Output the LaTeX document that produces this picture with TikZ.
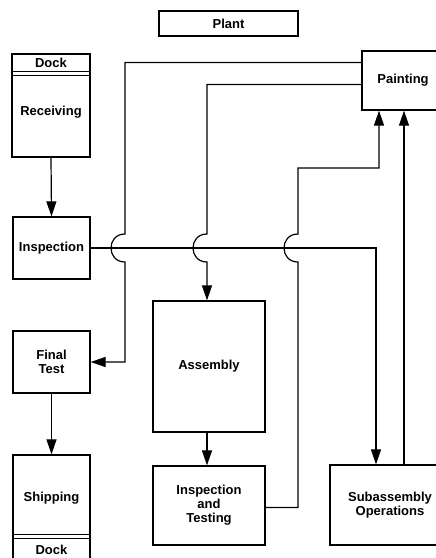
\documentclass[tikz,border=0pt]{standalone}
\usepackage{fontspec}
\setmainfont{Liberation Sans}
\usetikzlibrary{arrows.meta}
\begin{document}
\begin{tikzpicture}[x=1pt,y=-1pt,
  box/.style={draw, line width=1.3pt, inner sep=0pt},
  lbl/.style={font=\bfseries\fontsize{13}{14}\selectfont, align=center, inner sep=0pt},
  conn/.style={line width=1.2pt},
  arr/.style={conn, -{Triangle[length=15pt,width=10pt]}}]
\useasboundingbox (0,0) rectangle (436,558);
\clip (0,0) rectangle (436,558);
% boxes
\node[box, lbl, minimum width=139pt, minimum height=25pt] (plant) at (228.5,23.5) {Plant};
\node[box, minimum width=78pt, minimum height=103pt] (recv) at (51,105.5) {};
\node[lbl] (recvdock) at (51,63) {Dock};
\node[lbl] (recvtxt) at (51,112) {Receiving};
\draw[line width=1.3pt] ([yshift=-18pt]recv.north west) -- ([yshift=-18pt]recv.north east);
\draw[line width=1.3pt] ([yshift=-22pt]recv.north west) -- ([yshift=-22pt]recv.north east);
\node[box, lbl, minimum width=77pt, minimum height=62pt] (insp) at (51.5,248) {Inspection};
\node[box, lbl, minimum width=77pt, minimum height=62pt] (final) at (51.5,362) {Final\\Test};
\node[box, minimum width=77pt, minimum height=107pt] (ship) at (51.5,508.5) {};
\node[lbl] (shiptxt) at (51.5,498) {Shipping};
\node[lbl] (shipdock) at (51.5,550) {Dock};
\draw[line width=1.3pt] ([yshift=-80pt]ship.north west) -- ([yshift=-80pt]ship.north east);
\draw[line width=1.3pt] ([yshift=-84pt]ship.north west) -- ([yshift=-84pt]ship.north east);
\node[box, lbl, minimum width=112pt, minimum height=131pt] (asm) at (209,366.5) {Assembly};
\node[box, lbl, minimum width=112pt, minimum height=79pt] (it) at (209,505.5) {Inspection\\and\\Testing};
\node[box, minimum width=84pt, minimum height=59pt] (paint) at (404,80.5) {};
\node[lbl] (painttxt) at (403,80) {Painting};
\node[box, minimum width=120pt, minimum height=80pt] (sub) at (390,505) {};
\node[lbl] (subtxt) at (390,505) {Subassembly\\Operations};
% connectors
\draw[arr] (recv.south) -- (insp.north);
\draw[arr] (final.south) -- (ship.north);
\draw[arr] ([xshift=-2pt]asm.south) -- ([xshift=-2pt]it.north);
\draw[arr] (insp.east) -| ([xshift=-14pt]sub.north);
\draw[arr] ([xshift=14pt]sub.north) -- (paint.south);
\draw[arr] ([yshift=18pt]paint.west) -| (125,234)
  .. controls (106.3,234) and (106.3,262) .. (125,262) |- (final.east);
\draw[arr] ([yshift=-4pt]paint.west) -| (207,234)
  .. controls (188.3,234) and (188.3,262) .. (207,262) -- ([xshift=-2pt]asm.north);
\draw[arr] ([yshift=-2pt]it.east) -| (298,262)
  .. controls (279.3,262) and (279.3,234) .. (298,234) |- (379,168) -- ([xshift=-25pt]paint.south);
\end{tikzpicture}
\end{document}
